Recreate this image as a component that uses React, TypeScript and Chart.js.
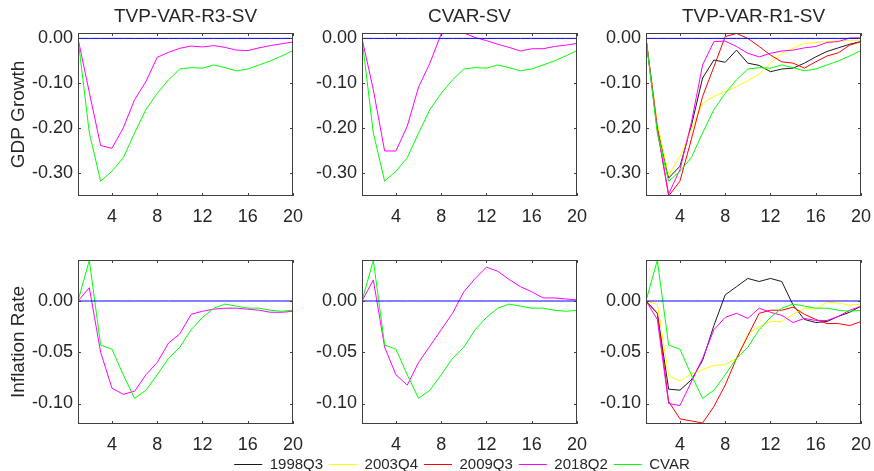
import React, { useEffect, useRef } from 'react';
import { Chart, registerables } from 'chart.js';
Chart.register(...registerables);

const HORIZONS = [1, 2, 3, 4, 5, 6, 7, 8, 9, 10, 11, 12, 13, 14, 15, 16, 17, 18, 19, 20];
const ZERO_LINE = [0, 0, 0, 0, 0, 0, 0, 0, 0, 0, 0, 0, 0, 0, 0, 0, 0, 0, 0, 0];

// GDP growth responses
const GDP_CVAR = [0, -0.210, -0.317, -0.295, -0.265, -0.210, -0.158, -0.122, -0.092, -0.068, -0.065, -0.066, -0.059, -0.065, -0.072, -0.068, -0.059, -0.050, -0.039, -0.027];
const GDP_R3SV_2018Q2 = [0, -0.120, -0.238, -0.244, -0.199, -0.136, -0.096, -0.042, -0.031, -0.022, -0.017, -0.019, -0.016, -0.020, -0.026, -0.027, -0.021, -0.016, -0.012, -0.008];
const GDP_CVARSV_2018Q2 = [0, -0.114, -0.250, -0.250, -0.195, -0.108, -0.055, 0.010, 0.013, 0.012, 0.002, -0.005, -0.013, -0.020, -0.028, -0.023, -0.023, -0.018, -0.015, -0.011];
const GDP_R1SV_1998Q3 = [0, -0.195, -0.310, -0.284, -0.195, -0.088, -0.048, -0.053, -0.026, -0.055, -0.060, -0.074, -0.068, -0.066, -0.055, -0.041, -0.029, -0.021, -0.013, -0.007];
const GDP_R1SV_2003Q4 = [0, -0.190, -0.304, -0.262, -0.203, -0.144, -0.129, -0.118, -0.107, -0.094, -0.079, -0.055, -0.033, -0.022, -0.011, -0.009, -0.007, -0.005, -0.004, -0.004];
const GDP_R1SV_2009Q3 = [0, -0.200, -0.350, -0.317, -0.225, -0.129, -0.063, 0.004, 0.011, 0.000, -0.018, -0.037, -0.052, -0.055, -0.066, -0.052, -0.039, -0.032, -0.015, -0.007];
const GDP_R1SV_2018Q2 = [0, -0.205, -0.346, -0.291, -0.188, -0.059, -0.007, -0.006, -0.018, -0.033, -0.041, -0.033, -0.028, -0.026, -0.021, -0.018, -0.009, -0.007, 0.001, 0.001];

// Inflation rate responses
const INF_CVAR = [0, 0.0397, -0.043, -0.047, -0.072, -0.095, -0.087, -0.072, -0.056, -0.045, -0.028, -0.016, -0.007, -0.003, -0.005, -0.007, -0.007, -0.009, -0.010, -0.009];
const INF_R3SV_2018Q2 = [0, 0.013, -0.050, -0.085, -0.091, -0.088, -0.072, -0.060, -0.041, -0.032, -0.013, -0.010, -0.008, -0.007, -0.007, -0.008, -0.009, -0.011, -0.011, -0.010];
const INF_CVARSV_2018Q2 = [0, 0.0205, -0.045, -0.072, -0.082, -0.060, -0.044, -0.028, -0.012, 0.009, 0.022, 0.033, 0.029, 0.021, 0.014, 0.009, 0.003, 0.003, 0.002, 0.001];
const INF_R1SV_1998Q3 = [0, -0.012, -0.086, -0.087, -0.077, -0.058, -0.024, 0.006, 0.014, 0.022, 0.019, 0.022, 0.019, -0.004, -0.018, -0.021, -0.020, -0.015, -0.011, -0.005];
const INF_R1SV_2003Q4 = [0, -0.003, -0.073, -0.078, -0.071, -0.067, -0.063, -0.062, -0.056, -0.032, -0.025, -0.020, -0.020, -0.013, -0.007, -0.008, -0.001, -0.002, -0.004, -0.003];
const INF_R1SV_2009Q3 = [0, -0.012, -0.098, -0.115, -0.117, -0.119, -0.103, -0.082, -0.056, -0.034, -0.012, -0.009, -0.009, -0.006, -0.013, -0.018, -0.022, -0.022, -0.024, -0.020];
const INF_R1SV_2018Q2 = [0, -0.018, -0.100, -0.102, -0.079, -0.056, -0.028, -0.016, -0.012, -0.017, -0.007, -0.011, -0.014, -0.021, -0.017, -0.019, -0.019, -0.015, -0.009, -0.005];

const X_TICKS = [4, 8, 12, 16, 20];
const GDP_TICKS = [0, -0.1, -0.2, -0.3];
const INF_TICKS = [0, -0.05, -0.1];
const PANEL_TITLES = ['TVP-VAR-R3-SV', 'CVAR-SV', 'TVP-VAR-R1-SV'];
const ROW_LABELS = ['GDP Growth', 'Inflation Rate'];
const LEGEND_LABELS = ['1998Q3', '2003Q4', '2009Q3', '2018Q2', 'CVAR'];

const C_BLACK = '#1a1a1a';
const C_YELLOW = '#ffff00';
const C_RED = '#ff0000';
const C_MAGENTA = '#ff00ff';
const C_GREEN = '#00ff00';
const C_BLUE = '#0000ff';
const LEGEND_COLORS = [C_BLACK, C_YELLOW, C_RED, C_MAGENTA, C_GREEN];

const FONT = 'Liberation Sans, Arial, Helvetica, sans-serif';
const TEXT = '#262626';
const FRAME = '#404040';

type Series = { values: number[]; color: string };

const framePlugin = {
  id: 'matlabFrame',
  afterDatasetsDraw(chart: any) {
    const { ctx, chartArea } = chart;
    const { left, right, top, bottom } = chartArea;
    const xs = chart.scales.x;
    const ys = chart.scales.y;
    ctx.save();
    ctx.strokeStyle = FRAME;
    ctx.lineWidth = 1;
    ctx.strokeRect(Math.round(left) + 0.5, Math.round(top) + 0.5, Math.round(right - left) - 1, Math.round(bottom - top) - 1);
    ctx.beginPath();
    const tl = 3;
    xs.ticks.forEach((t: any) => {
      const px = Math.round(xs.getPixelForValue(t.value)) + 0.5;
      ctx.moveTo(px, bottom); ctx.lineTo(px, bottom - tl);
      ctx.moveTo(px, top); ctx.lineTo(px, top + tl);
    });
    ys.ticks.forEach((t: any) => {
      const py = Math.round(ys.getPixelForValue(t.value)) + 0.5;
      ctx.moveTo(left, py); ctx.lineTo(left + tl, py);
      ctx.moveTo(right, py); ctx.lineTo(right - tl, py);
    });
    ctx.stroke();
    ctx.restore();
  },
};

const panelTitlePlugin = {
  id: 'panelTitle',
  afterDraw(chart: any, _args: any, opts: any) {
    if (!opts || !opts.text) return;
    const { ctx, chartArea } = chart;
    ctx.save();
    ctx.font = `19px ${FONT}`;
    ctx.fillStyle = TEXT;
    ctx.textAlign = 'center';
    ctx.textBaseline = 'middle';
    ctx.fillText(opts.text, (chartArea.left + chartArea.right) / 2, 17);
    ctx.restore();
  },
};

type PanelProps = {
  left: number; top: number; width: number; height: number; axisW: number;
  padTop: number; title?: string; yTitle?: string; yMin: number; yMax: number;
  yTicks: number[]; series: Series[];
};

function Panel(p: PanelProps) {
  const ref = useRef<HTMLCanvasElement>(null);
  useEffect(() => {
    const datasets = [
      { values: ZERO_LINE, color: C_BLUE },
      ...p.series.slice().reverse(),
    ].map((s) => ({
      data: HORIZONS.map((h, i) => ({ x: h, y: s.values[i] })),
      borderColor: s.color,
      backgroundColor: s.color,
      borderWidth: 1,
      pointRadius: 0,
      fill: false,
      tension: 0,
    }));
    const chart = new Chart(ref.current as HTMLCanvasElement, {
      type: 'line',
      data: { datasets },
      options: {
        responsive: false,
        animation: false,
        devicePixelRatio: 1,
        events: [],
        layout: { padding: { top: p.padTop, right: p.width - p.axisW - 215, left: 0, bottom: 0 } },
        plugins: {
          legend: { display: false },
          tooltip: { enabled: false },
          title: { display: false },
          panelTitle: { text: p.title || '' },
        },
        scales: {
          x: {
            type: 'linear', min: 1, max: 20,
            afterBuildTicks: (s: any) => { s.ticks = X_TICKS.map((v) => ({ value: v })); },
            afterFit: (s: any) => { s.height = 30; s.paddingLeft = 0; s.paddingRight = 0; s.paddingTop = 0; s.paddingBottom = 0; },
            grid: { display: false, drawTicks: false },
            border: { display: false },
            ticks: { color: TEXT, font: { size: 18, family: FONT }, padding: 10, maxRotation: 0, autoSkip: false, callback: (v: any) => String(v) },
          },
          y: {
            type: 'linear', min: p.yMin, max: p.yMax,
            afterBuildTicks: (s: any) => { s.ticks = p.yTicks.map((v) => ({ value: v })); },
            afterFit: (s: any) => { s.width = p.axisW; s.paddingTop = 0; s.paddingBottom = 0; s.paddingLeft = 0; s.paddingRight = 0; },
            grid: { display: false, drawTicks: false },
            border: { display: false },
            ticks: { color: TEXT, font: { size: 18, family: FONT }, padding: 5, autoSkip: false, callback: (v: any) => Number(v).toFixed(2) },
            title: p.yTitle
              ? { display: true, text: p.yTitle, color: TEXT, font: { size: 19, family: FONT }, padding: { top: 7, bottom: 0 } }
              : { display: false },
          },
        },
      } as any,
      plugins: [framePlugin, panelTitlePlugin],
    });
    return () => chart.destroy();
  }, []);
  return (
    <canvas ref={ref} width={p.width} height={p.height}
      style={{ position: 'absolute', left: p.left, top: p.top, width: p.width, height: p.height }} />
  );
}

function Legend() {
  const ref = useRef<HTMLCanvasElement>(null);
  useEffect(() => {
    const chart = new Chart(ref.current as HTMLCanvasElement, {
      type: 'line',
      data: {
        datasets: LEGEND_LABELS.map((l, i) => ({ label: l, data: [], borderColor: LEGEND_COLORS[i], backgroundColor: LEGEND_COLORS[i], borderWidth: 1 })),
      },
      options: {
        responsive: false,
        animation: false,
        devicePixelRatio: 1,
        events: [],
        layout: { padding: { top: 20 } },
        scales: { x: { display: false }, y: { display: false } },
        plugins: {
          tooltip: { enabled: false },
          legend: {
            display: true,
            position: 'top',
            align: 'center',
            labels: {
              boxWidth: 28,
              boxHeight: 1,
              padding: 6,
              color: TEXT,
              font: { size: 15, family: FONT },
              generateLabels: () =>
                LEGEND_LABELS.map((l, i) => ({
                  text: l, fillStyle: LEGEND_COLORS[i], strokeStyle: LEGEND_COLORS[i],
                  lineWidth: 0, hidden: false, datasetIndex: i, fontColor: TEXT,
                })),
            },
          },
        },
      } as any,
    });
    return () => chart.destroy();
  }, []);
  return (
    <canvas ref={ref} width={800} height={100}
      style={{ position: 'absolute', left: 62, top: 431, width: 800, height: 100 }} />
  );
}

export default function App() {
  const cols = [
    { left: 0, axisW: 78, width: 306 },
    { left: 292, axisW: 70, width: 298 },
    { left: 576, axisW: 70, width: 298 },
  ];
  const gdpSeries: Series[][] = [
    [{ values: GDP_R3SV_2018Q2, color: C_MAGENTA }, { values: GDP_CVAR, color: C_GREEN }],
    [{ values: GDP_CVARSV_2018Q2, color: C_MAGENTA }, { values: GDP_CVAR, color: C_GREEN }],
    [
      { values: GDP_R1SV_1998Q3, color: C_BLACK },
      { values: GDP_R1SV_2003Q4, color: C_YELLOW },
      { values: GDP_R1SV_2009Q3, color: C_RED },
      { values: GDP_R1SV_2018Q2, color: C_MAGENTA },
      { values: GDP_CVAR, color: C_GREEN },
    ],
  ];
  const infSeries: Series[][] = [
    [{ values: INF_R3SV_2018Q2, color: C_MAGENTA }, { values: INF_CVAR, color: C_GREEN }],
    [{ values: INF_CVARSV_2018Q2, color: C_MAGENTA }, { values: INF_CVAR, color: C_GREEN }],
    [
      { values: INF_R1SV_1998Q3, color: C_BLACK },
      { values: INF_R1SV_2003Q4, color: C_YELLOW },
      { values: INF_R1SV_2009Q3, color: C_RED },
      { values: INF_R1SV_2018Q2, color: C_MAGENTA },
      { values: INF_CVAR, color: C_GREEN },
    ],
  ];
  return (
    <div style={{ position: 'absolute', left: 0, top: 0, width: 874, height: 471, background: '#fff', overflow: 'hidden' }}>
      {cols.map((c, i) => (
        <Panel key={'g' + i} left={c.left} top={0} width={c.width} height={226} axisW={c.axisW}
          padTop={33} title={PANEL_TITLES[i]} yTitle={i === 0 ? ROW_LABELS[0] : undefined}
          yMin={-0.35} yMax={0.012} yTicks={GDP_TICKS} series={gdpSeries[i]} />
      ))}
      {cols.map((c, i) => (
        <Panel key={'i' + i} left={c.left} top={250} width={c.width} height={204} axisW={c.axisW}
          padTop={10} yTitle={i === 0 ? ROW_LABELS[1] : undefined}
          yMin={-0.12} yMax={0.04} yTicks={INF_TICKS} series={infSeries[i]} />
      ))}
      <Legend />
    </div>
  );
}
